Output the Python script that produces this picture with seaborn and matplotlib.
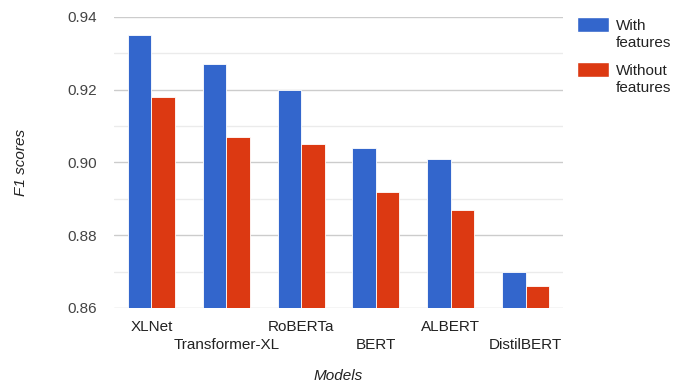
import matplotlib
matplotlib.use("Agg")
import matplotlib.pyplot as plt
from matplotlib.patches import Patch, Rectangle
from matplotlib.legend_handler import HandlerPatch
from matplotlib.ticker import MultipleLocator
import numpy as np
import pandas as pd
import seaborn as sns

# ========================================================================
# DATA
# ========================================================================
models = ['XLNet', 'Transformer-XL', 'RoBERTa', 'BERT', 'ALBERT', 'DistilBERT']
with_features = [0.935, 0.927, 0.920, 0.904, 0.901, 0.870]
without_features = [0.918, 0.907, 0.905, 0.892, 0.887, 0.866]
series_names = ['With features', 'Without features']
colors = ['#3366CC', '#DC3912']

df = pd.DataFrame({'Model': models,
                   series_names[0]: with_features,
                   series_names[1]: without_features})
df_melted = df.melt(id_vars=['Model'], var_name='Series', value_name='F1')

# ========================================================================
# FIGURE
# ========================================================================
sns.set_theme(style='white')
plt.rcParams['font.family'] = ['Liberation Sans', 'DejaVu Sans']
FS = 11

fig = plt.figure(figsize=(6.75, 3.82), dpi=100)
ax = fig.add_axes([0.169, 0.194, 0.665, 0.7615])

sns.barplot(data=df_melted, x='Model', y='F1', hue='Series',
            palette=dict(zip(series_names, colors)), width=0.63,
            edgecolor='white', linewidth=0.6, saturation=1, ax=ax, legend=False)

# AXIS LIMITS AND GRID
ax.set_ylim(0.86, 0.94)
ax.set_xlim(-0.5, len(models) - 0.5)
ax.yaxis.set_major_locator(MultipleLocator(0.02))
ax.yaxis.set_minor_locator(MultipleLocator(0.01))
ax.yaxis.set_major_formatter(matplotlib.ticker.FormatStrFormatter('%.2f'))
ax.grid(axis='y', which='major', color='#cccccc', linewidth=1)
ax.grid(axis='y', which='minor', color='#ebebeb', linewidth=1)
ax.set_axisbelow(True)
for s in ax.spines.values():
    s.set_visible(False)
ax.tick_params(axis='y', which='both', length=0, labelsize=FS, labelcolor='#444444', pad=12)
ax.tick_params(axis='x', length=0, labelsize=FS, labelcolor='#222222')

# STAGGERED X TICK LABELS
ax.set_xticks(range(len(models)))
ax.set_xticklabels(models)
for i, tick in enumerate(ax.xaxis.get_major_ticks()):
    tick.set_pad(9 if i % 2 == 0 else 22)

# AXIS LABELS
ax.set_ylabel('F1 scores', fontsize=FS, style='italic', color='#222222', labelpad=29)
ax.set_xlabel('Models', fontsize=FS, style='italic', color='#222222', labelpad=12)


# LEGEND (HANDLE ALIGNED WITH FIRST TEXT LINE)
def top_patch(legend, orig_handle, xdescent, ydescent, width, height, fontsize):
    return Rectangle((-xdescent, fontsize * 0.53), width, fontsize * 1.0)


handles = [Patch(facecolor=c, edgecolor='white') for c in colors]
labels = [n.replace(' ', '\n') for n in series_names]
leg = fig.legend(handles, labels, loc='upper left', bbox_to_anchor=(0.835, 0.986),
                 frameon=False, fontsize=FS, handlelength=2.1, handleheight=1.0,
                 handletextpad=0.4, labelspacing=0.9, labelcolor='#222222',
                 handler_map={Patch: HandlerPatch(patch_func=top_patch)})
for t in leg.get_texts():
    t.set_linespacing(1.28)

plt.savefig('out.png', dpi=100)
